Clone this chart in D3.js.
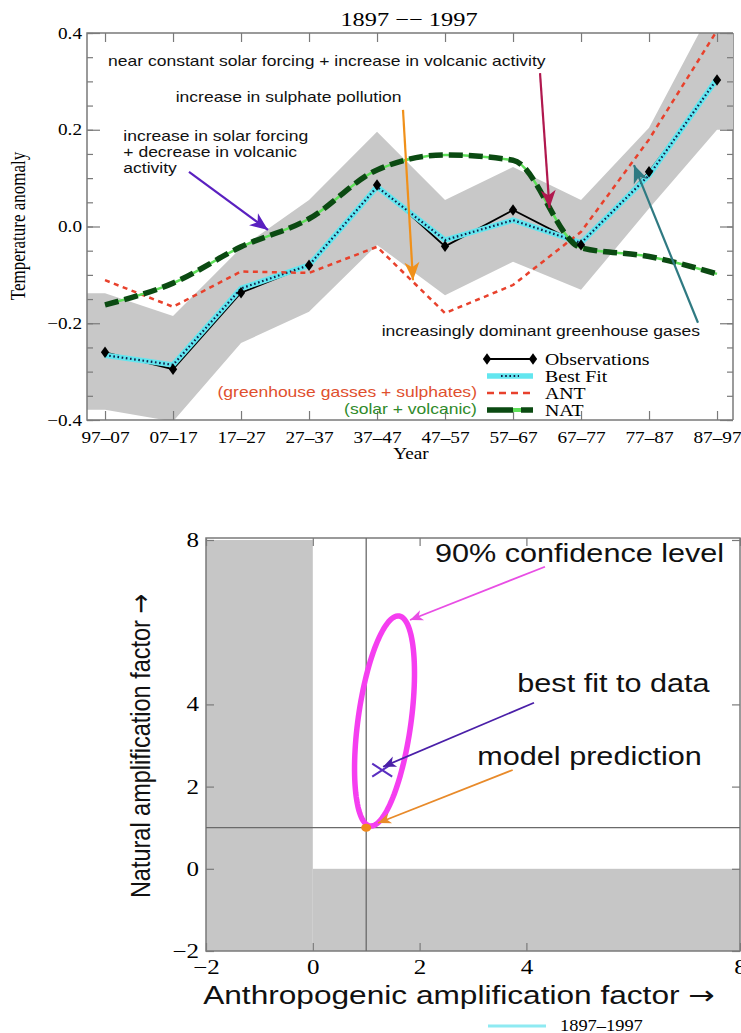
<!DOCTYPE html>
<html>
<head>
<meta charset="utf-8">
<script src="https://cdn.jsdelivr.net/npm/d3@7"></script>
<style>
  body { margin: 0; background: #fff; }
  svg { display: block; }
</style>
</head>
<body>
<svg id="chart" width="741" height="1033"></svg>
<script>
// ---- top panel: decadal temperature anomalies, 1897-1997
const periods = ['97–07', '07–17', '17–27', '27–37', '37–47', '47–57', '57–67', '67–77', '77–87', '87–97'];
const observations = [-0.26, -0.295, -0.137, -0.08, 0.086, -0.041, 0.034, -0.038, 0.113, 0.303];
const bestFit = [-0.266, -0.286, -0.128, -0.08, 0.082, -0.028, 0.013, -0.034, 0.106, 0.305];
const ant = [-0.111, -0.166, -0.093, -0.096, -0.042, -0.179, -0.121, -0.011, 0.18, 0.405];
const nat = [-0.162, -0.117, -0.042, 0.016, 0.117, 0.148, 0.137, -0.044, -0.062, -0.098];
const bandUpper = [-0.138, -0.185, -0.044, 0.055, 0.196, 0.055, 0.123, 0.055, 0.204, 0.47];
const bandLower = [-0.379, -0.403, -0.241, -0.176, -0.038, -0.142, -0.073, -0.131, 0.037, 0.2];
const tempTicks = [-0.4, -0.2, 0, 0.2, 0.4];

// ---- bottom panel: amplification factors
const ampTicks = [-2, 0, 2, 4, 8];
const modelPrediction = [1, 1];
const bestFitPoint = [1.30, 2.40];
const ellipseCenter = [1.343, 3.596];
const ellipseMajor = [0.272, 2.555];
const ellipseMinor = [0.491, -0.088];

const serif = '"Liberation Serif", "Times New Roman", serif';
const sans = '"Liberation Sans", Arial, sans-serif';
const arrowFont = '"DejaVu Sans", sans-serif';
const frameColor = '#7a7a7a';

const svg = d3.select('#chart');
const defs = svg.append('defs');

// the original picture is stretched sideways, so text is widened to match
function widen(sel, k) {
  sel.each(function () {
    const w = this.getComputedTextLength();
    d3.select(this).attr('textLength', w * k).attr('lengthAdjust', 'spacingAndGlyphs');
  });
}

function marker(id, color, len, half) {
  defs.append('marker')
    .attr('id', id)
    .attr('markerUnits', 'userSpaceOnUse')
    .attr('viewBox', `${-len - 1} ${-half - 1} ${len + 2} ${2 * half + 2}`)
    .attr('markerWidth', len + 2)
    .attr('markerHeight', 2 * half + 2)
    .attr('refX', 0)
    .attr('refY', 0)
    .attr('orient', 'auto')
    .append('path')
      .attr('d', `M0,0L${-len},${-half}L${-len * 0.72},0L${-len},${half}Z`)
      .attr('fill', color);
}

function styleAxis(g) {
  g.select('.domain').remove();
  g.selectAll('.tick line').attr('stroke', frameColor).attr('stroke-width', 1.2);
}

// label with a trailing arrow drawn from a font that has a full-size glyph
function arrowLabel(sel, label) {
  sel.append('tspan').text(label + ' ');
  sel.append('tspan').attr('font-family', arrowFont).text('→');
}

// ================= TOP PANEL =================
const x = d3.scaleLinear().domain([-0.265, 9.235]).range([87, 733]);
const y = d3.scaleLinear().domain([-0.4, 0.4]).range([420, 33]);
const [x0, x1] = x.range();
const [y0, y1] = y.range();

defs.append('clipPath').attr('id', 'clipTop')
  .append('rect')
    .attr('x', x0).attr('y', y1)
    .attr('width', x1 - x0).attr('height', y0 - y1);

const upper = svg.append('g');

// right border sits under the band in the original
upper.append('line')
  .attr('x1', x1).attr('x2', x1).attr('y1', y1).attr('y2', y0)
  .attr('stroke', frameColor).attr('stroke-width', 1.5);

const bandData = [{ x: x.domain()[0], lo: bandLower[0], hi: bandUpper[0] }]
  .concat(periods.map((p, i) => ({ x: i, lo: bandLower[i], hi: bandUpper[i] })))
  .concat([{ x: x.domain()[1], lo: bandLower[9], hi: bandUpper[9] }]);

upper.append('path')
  .datum(bandData)
  .attr('clip-path', 'url(#clipTop)')
  .attr('fill', '#c8c8c8')
  .attr('d', d3.area().x(d => x(d.x)).y0(d => y(d.lo)).y1(d => y(d.hi)));

// frame
upper.append('path')
  .attr('d', `M${x1},${y1}H${x0}V${y0}H${x1}`)
  .attr('fill', 'none')
  .attr('stroke', frameColor)
  .attr('stroke-width', 1.5);

const minorTicks = d3.range(-8, 9).map(k => k * 0.05);

upper.append('g')
  .attr('transform', `translate(${x0},0)`)
  .call(d3.axisLeft(y).tickValues(minorTicks).tickSize(-6).tickFormat(''))
  .call(styleAxis);

upper.append('g')
  .attr('transform', `translate(${x0},0)`)
  .call(d3.axisLeft(y).tickValues(tempTicks).tickSize(-13).tickPadding(5).tickFormat(d3.format('.1f')))
  .call(styleAxis)
  .call(g => g.selectAll('text')
    .attr('font-family', serif).attr('font-size', 16).attr('fill', '#000')
    .call(widen, 1.2));

upper.append('g')
  .attr('transform', `translate(${x1},0)`)
  .call(d3.axisRight(y).tickValues(minorTicks).tickSize(-6).tickFormat(''))
  .call(styleAxis);

upper.append('g')
  .attr('transform', `translate(${x1},0)`)
  .call(d3.axisRight(y).tickValues(tempTicks).tickSize(-13).tickFormat(''))
  .call(styleAxis);

upper.append('g')
  .attr('transform', `translate(0,${y1})`)
  .call(d3.axisTop(x).tickValues(d3.range(periods.length)).tickSize(-9).tickFormat(''))
  .call(styleAxis);

upper.append('g')
  .attr('transform', `translate(0,${y0})`)
  .call(d3.axisBottom(x).tickValues(d3.range(periods.length)).tickSize(-9).tickPadding(12)
    .tickFormat(i => periods[i]))
  .call(styleAxis)
  .call(g => g.selectAll('text')
    .attr('font-family', serif).attr('font-size', 15.8).attr('fill', '#000')
    .call(widen, 1.22));

// series
const plot = upper.append('g').attr('clip-path', 'url(#clipTop)');
const line = d3.line().x((d, i) => x(i)).y(d => y(d));

plot.append('path').datum(observations)
  .attr('d', line).attr('fill', 'none')
  .attr('stroke', '#000').attr('stroke-width', 1.8);

plot.append('path').datum(bestFit)
  .attr('d', line).attr('fill', 'none')
  .attr('stroke', '#63e6ef').attr('stroke-width', 5.5);

plot.append('path').datum(bestFit)
  .attr('d', line).attr('fill', 'none')
  .attr('stroke', '#10204a').attr('stroke-width', 2.2)
  .attr('stroke-dasharray', '1.6,2.6');

plot.append('path').datum(ant)
  .attr('d', line).attr('fill', 'none')
  .attr('stroke', '#e8412c').attr('stroke-width', 2.5)
  .attr('stroke-dasharray', '5,4.5');

const natLine = d3.line().x((d, i) => x(i)).y(d => y(d)).curve(d3.curveMonotoneX);

plot.append('path').datum(nat)
  .attr('d', natLine).attr('fill', 'none')
  .attr('stroke', '#5fe05a').attr('stroke-width', 2.5);

plot.append('path').datum(nat)
  .attr('d', natLine).attr('fill', 'none')
  .attr('stroke', '#0b4a12').attr('stroke-width', 5.5)
  .attr('stroke-dasharray', '14,6');

const diamond = d3.symbol().type(d3.symbolDiamond).size(38);

plot.selectAll('.obs')
  .data(observations)
  .join('path')
    .attr('class', 'obs')
    .attr('d', diamond)
    .attr('transform', (d, i) => `translate(${x(i)},${y(d)}) scale(1.25,1)`)
    .attr('fill', '#000');

// annotations
const topNotes = [
  { t: 'near constant solar forcing + increase in volcanic activity', at: [0.044, 0.332], c: '#111', a: 'start' },
  { t: 'increase in sulphate pollution', at: [1.039, 0.258], c: '#111', a: 'start' },
  { t: 'increase in solar forcing', at: [0.269, 0.177], c: '#111', a: 'start' },
  { t: '+ decrease in volcanic', at: [0.269, 0.144], c: '#111', a: 'start' },
  { t: 'activity', at: [0.269, 0.111], c: '#111', a: 'start' },
  { t: 'increasingly dominant greenhouse gases', at: [4.069, -0.226], c: '#111', a: 'start' },
  { t: '(greenhouse gasses + sulphates)', at: [5.47, -0.352], c: '#e0502e', a: 'end' },
  { t: '(solar + volcanic)', at: [5.47, -0.388], c: '#2f8a2a', a: 'end' }
];

upper.append('g')
  .selectAll('text')
  .data(topNotes)
  .join('text')
    .attr('x', d => x(d.at[0]))
    .attr('y', d => y(d.at[1]))
    .attr('text-anchor', d => d.a)
    .attr('font-family', sans)
    .attr('font-size', 14.6)
    .attr('fill', d => d.c)
    .text(d => d.t)
    .call(widen, 1.2);

const topArrows = [
  { from: [1.235, 0.113], to: [2.397, -0.007], c: '#5a20c0', id: 'ah-purple' },
  { from: [4.382, 0.241], to: [4.529, -0.111], c: '#f0901a', id: 'ah-orange' },
  { from: [6.397, 0.317], to: [6.536, 0.038], c: '#b0184e', id: 'ah-crimson' },
  { from: [8.72, -0.199], to: [7.779, 0.127], c: '#2f7a82', id: 'ah-teal' }
];
topArrows.forEach(d => marker(d.id, d.c, 18, 7.5));

upper.append('g')
  .selectAll('line')
  .data(topArrows)
  .join('line')
    .attr('x1', d => x(d.from[0])).attr('y1', d => y(d.from[1]))
    .attr('x2', d => x(d.to[0])).attr('y2', d => y(d.to[1]))
    .attr('stroke', d => d.c)
    .attr('stroke-width', 2.2)
    .attr('marker-end', d => `url(#${d.id})`);

// legend
const legend = upper.append('g').attr('transform', 'translate(487,359)');
const legendRows = ['Observations', 'Best Fit', 'ANT', 'NAT'];
legend.selectAll('text')
  .data(legendRows)
  .join('text')
    .attr('x', 58)
    .attr('y', (d, i) => i * 17 + 5.5)
    .attr('font-family', serif)
    .attr('font-size', 16.5)
    .attr('fill', '#000')
    .text(d => d)
    .call(widen, 1.2);

legend.append('line').attr('x1', 0).attr('x2', 46).attr('y1', 0).attr('y2', 0)
  .attr('stroke', '#000').attr('stroke-width', 1.8);
legend.selectAll('.ld').data([0, 46]).join('path')
  .attr('class', 'ld').attr('d', diamond)
  .attr('transform', d => `translate(${d},0) scale(1.25,1)`).attr('fill', '#000');
legend.append('line').attr('x1', 0).attr('x2', 46).attr('y1', 17).attr('y2', 17)
  .attr('stroke', '#63e6ef').attr('stroke-width', 5.5);
legend.append('line').attr('x1', 14).attr('x2', 32).attr('y1', 17).attr('y2', 17)
  .attr('stroke', '#10204a').attr('stroke-width', 2.2).attr('stroke-dasharray', '1.6,2.6');
legend.append('line').attr('x1', 0).attr('x2', 46).attr('y1', 34).attr('y2', 34)
  .attr('stroke', '#e8412c').attr('stroke-width', 2.5).attr('stroke-dasharray', '7,5');
legend.append('line').attr('x1', 0).attr('x2', 46).attr('y1', 51).attr('y2', 51)
  .attr('stroke', '#5fe05a').attr('stroke-width', 4);
legend.append('line').attr('x1', 0).attr('x2', 46).attr('y1', 51).attr('y2', 51)
  .attr('stroke', '#0b4a12').attr('stroke-width', 5.5).attr('stroke-dasharray', '26,8');

// titles
upper.append('text')
  .attr('x', 409).attr('y', 26)
  .attr('text-anchor', 'middle')
  .attr('font-family', serif).attr('font-size', 19.5)
  .text('1897 −− 1997')
  .call(widen, 1.25);

upper.append('text')
  .attr('x', 411).attr('y', 459)
  .attr('text-anchor', 'middle')
  .attr('font-family', serif).attr('font-size', 16)
  .text('Year')
  .call(widen, 1.2);

upper.append('text')
  .attr('transform', 'translate(25,226) rotate(-90) scale(1,1.2)')
  .attr('text-anchor', 'middle')
  .attr('font-family', serif).attr('font-size', 17)
  .text('Temperature anomaly');

// ================= BOTTOM PANEL =================
const ax = d3.scaleLinear().domain([-2, 8]).range([206, 740]);
const ay = d3.scaleLinear().domain([-2, 8]).range([951, 540]);
const lower = svg.append('g');

// region excluded: negative amplification
lower.append('rect')
  .attr('x', ax(-2)).attr('y', ay(8))
  .attr('width', ax(0) - ax(-2)).attr('height', ay(-2) - ay(8))
  .attr('fill', '#c6c6c6');
lower.append('rect')
  .attr('x', ax(0)).attr('y', ay(0))
  .attr('width', ax(8) - ax(0)).attr('height', ay(-2) - ay(0))
  .attr('fill', '#c6c6c6');

lower.append('rect')
  .attr('x', ax(-2)).attr('y', ay(8) - 2)
  .attr('width', ax(8) - ax(-2)).attr('height', ay(-2) - ay(8) + 2)
  .attr('fill', 'none').attr('stroke', frameColor).attr('stroke-width', 1.5);

lower.append('g')
  .attr('transform', `translate(${ax(-2)},0)`)
  .call(d3.axisLeft(ay).tickValues(ampTicks).tickSize(-8).tickPadding(7).tickFormat(d3.format('d')))
  .call(styleAxis)
  .call(g => g.selectAll('text')
    .attr('font-family', serif).attr('font-size', 20).attr('fill', '#000')
    .call(widen, 1.25));

lower.append('g')
  .attr('transform', `translate(${ax(8)},0)`)
  .call(d3.axisRight(ay).tickValues(ampTicks).tickSize(-8).tickFormat(''))
  .call(styleAxis);

lower.append('g')
  .attr('transform', `translate(0,${ay(8) - 2})`)
  .call(d3.axisTop(ax).tickValues(ampTicks).tickSize(-8).tickFormat(''))
  .call(styleAxis);

lower.append('g')
  .attr('transform', `translate(0,${ay(-2)})`)
  .call(d3.axisBottom(ax).tickValues(ampTicks).tickSize(-8).tickPadding(9).tickFormat(d3.format('d')))
  .call(styleAxis)
  .call(g => g.selectAll('text')
    .attr('font-family', serif).attr('font-size', 20).attr('fill', '#000')
    .call(widen, 1.25));

// reference lines through the model prediction
lower.append('line')
  .attr('x1', ax(-2)).attr('x2', ax(8))
  .attr('y1', ay(modelPrediction[1])).attr('y2', ay(modelPrediction[1]))
  .attr('stroke', '#6a6a6a').attr('stroke-width', 1.3);
lower.append('line')
  .attr('x1', ax(modelPrediction[0])).attr('x2', ax(modelPrediction[0]))
  .attr('y1', ay(8) - 2).attr('y2', ay(-2))
  .attr('stroke', '#6a6a6a').attr('stroke-width', 1.3);

// 90% confidence ellipse
const ellipse = d3.range(0, 360, 3).map(a => {
  const t = a * Math.PI / 180;
  return [
    ellipseCenter[0] + Math.cos(t) * ellipseMajor[0] + Math.sin(t) * ellipseMinor[0],
    ellipseCenter[1] + Math.cos(t) * ellipseMajor[1] + Math.sin(t) * ellipseMinor[1]
  ];
});
lower.append('path')
  .datum(ellipse)
  .attr('d', d3.line().x(d => ax(d[0])).y(d => ay(d[1])).curve(d3.curveLinearClosed))
  .attr('fill', 'none')
  .attr('stroke', '#f53ef0')
  .attr('stroke-width', 5.5);

// best fit cross
const bx = ax(bestFitPoint[0]);
const by = ay(bestFitPoint[1]);
lower.append('path')
  .attr('d', `M${bx - 10},${by - 6.5}L${bx + 10},${by + 6.5}M${bx - 10},${by + 6.5}L${bx + 10},${by - 6.5}`)
  .attr('stroke', '#5a2ec0').attr('stroke-width', 2);

// model prediction
lower.append('ellipse')
  .attr('cx', ax(modelPrediction[0])).attr('cy', ay(modelPrediction[1]))
  .attr('rx', 5).attr('ry', 4)
  .attr('fill', '#f08a1c');

const botNotes = [
  { t: '90% confidence level', at: [2.288, 7.472] },
  { t: 'best fit to data', at: [3.830, 4.309] },
  { t: 'model prediction', at: [3.081, 2.526] }
];
lower.append('g')
  .selectAll('text')
  .data(botNotes)
  .join('text')
    .attr('x', d => ax(d.at[0]))
    .attr('y', d => ay(d.at[1]))
    .attr('font-family', sans)
    .attr('font-size', 25.5)
    .attr('fill', '#111')
    .text(d => d.t)
    .call(widen, 1.2);

const botArrows = [
  { from: [4.348, 7.35], to: [1.820, 6.053], c: '#e84ee4', id: 'bh-magenta' },
  { from: [4.142, 4.041], to: [1.315, 2.484], c: '#4a1fa8', id: 'bh-purple' },
  { from: [3.743, 2.404], to: [1.221, 1.114], c: '#e88a2a', id: 'bh-orange' }
];
botArrows.forEach(d => marker(d.id, d.c, 13, 5.5));

lower.append('g')
  .selectAll('line')
  .data(botArrows)
  .join('line')
    .attr('x1', d => ax(d.from[0])).attr('y1', d => ay(d.from[1]))
    .attr('x2', d => ax(d.to[0])).attr('y2', d => ay(d.to[1]))
    .attr('stroke', d => d.c)
    .attr('stroke-width', 1.8)
    .attr('marker-end', d => `url(#${d.id})`);

// axis titles
lower.append('text')
  .attr('x', 459).attr('y', 1004)
  .attr('text-anchor', 'middle')
  .attr('font-family', sans).attr('font-size', 25.5)
  .attr('fill', '#111')
  .call(arrowLabel, 'Anthropogenic amplification factor')
  .call(widen, 1.24);

lower.append('text')
  .attr('transform', 'translate(150,746) rotate(-90) scale(1,1.2)')
  .attr('text-anchor', 'middle')
  .attr('font-family', sans).attr('font-size', 23.5)
  .attr('fill', '#111')
  .call(arrowLabel, 'Natural amplification factor');

// legend
lower.append('line')
  .attr('x1', 488).attr('x2', 546).attr('y1', 1026).attr('y2', 1026)
  .attr('stroke', '#8eeaf2').attr('stroke-width', 3);
lower.append('text')
  .attr('x', 560).attr('y', 1031)
  .attr('font-family', serif).attr('font-size', 16)
  .text('1897–1997')
  .call(widen, 1.15);
</script>
</body>
</html>
